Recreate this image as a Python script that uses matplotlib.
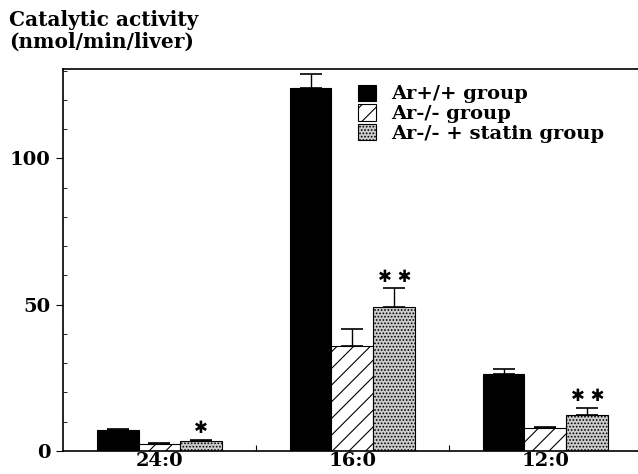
import numpy as np
import matplotlib
matplotlib.use('Agg')
from matplotlib import pyplot as plt
from matplotlib.ticker import MultipleLocator

# Data
categories = ['24:0', '16:0', '12:0']
groups = ['Ar+/+ group', 'Ar-/- group', 'Ar-/- + statin group']
wild = [7.2, 124.0, 26.3]
wild_err = [0.3, 5.0, 1.8]
ko = [2.4, 35.8, 7.9]
ko_err = [0.2, 5.8, 0.3]
statin = [3.4, 49.1, 12.3]
statin_err = [0.3, 6.5, 2.4]
stars = ['\u2731', '\u2731 \u2731', '\u2731 \u2731']

plt.rcParams['font.family'] = ['DejaVu Serif']
plt.rcParams['font.weight'] = 'bold'
plt.rcParams['hatch.linewidth'] = 0.8

fig = plt.figure(figsize=(6.38, 4.74), dpi=100)
ax = fig.add_axes([0.0987, 0.0485, 0.9013, 0.8055])

x = np.arange(len(categories))
w = 0.217

ax.bar(x - w, wild, w, color='black', edgecolor='black', linewidth=0.8,
       label=groups[0])
ax.bar(x, ko, w, color='white', edgecolor='black', hatch='//', linewidth=0.8,
       label=groups[1])
ax.bar(x + w, statin, w, color='#cccccc', edgecolor='black', hatch='.....',
       linewidth=0.8, label=groups[2])

for off, vals, errs in [(-w, wild, wild_err), (0, ko, ko_err), (w, statin, statin_err)]:
    ax.errorbar(x + off, vals, yerr=[np.zeros(len(errs)), errs], fmt='none',
                ecolor='black', elinewidth=1, capsize=8, capthick=1.2)

for i, s in enumerate(stars):
    ax.text(x[i] + w, statin[i] + statin_err[i] + 4.0, s, ha='center', va='center',
            fontsize=12, family='DejaVu Sans')

ax.set_xlim(-0.5, 2.48)
ax.set_ylim(0, 130.5)
ax.set_xticks([0.5, 1.5])
ax.set_xticklabels([])
ax.xaxis.set_minor_locator(plt.FixedLocator(x))
ax.set_xticklabels(categories, minor=True)
ax.tick_params(axis='x', which='minor', length=0, labelsize=14, pad=1)
ax.tick_params(axis='x', which='major', direction='in', length=4)

ax.set_yticks([0, 50, 100])
ax.yaxis.set_minor_locator(MultipleLocator(10))
ax.tick_params(axis='y', which='major', direction='out', length=5, labelsize=14, pad=4)
ax.tick_params(axis='y', which='minor', direction='in', length=3)
for lab in ax.get_xticklabels(minor=True) + ax.get_yticklabels():
    lab.set_fontweight('bold')

ax.spines['right'].set_visible(False)
for sp in ['left', 'bottom', 'top']:
    ax.spines[sp].set_linewidth(1.2)

fig.text(0.014, 0.978, 'Catalytic activity\n(nmol/min/liver)', ha='left', va='top',
         fontsize=14.5, fontweight='heavy', linespacing=1.1)

ax.legend(loc='upper left', bbox_to_anchor=(0.5, 0.98), frameon=False,
          prop={'size': 14, 'weight': 'bold'}, handlelength=0.9, handleheight=0.9,
          handletextpad=0.8, labelspacing=0.05, borderaxespad=0)

fig.savefig('out.png', dpi=100)
